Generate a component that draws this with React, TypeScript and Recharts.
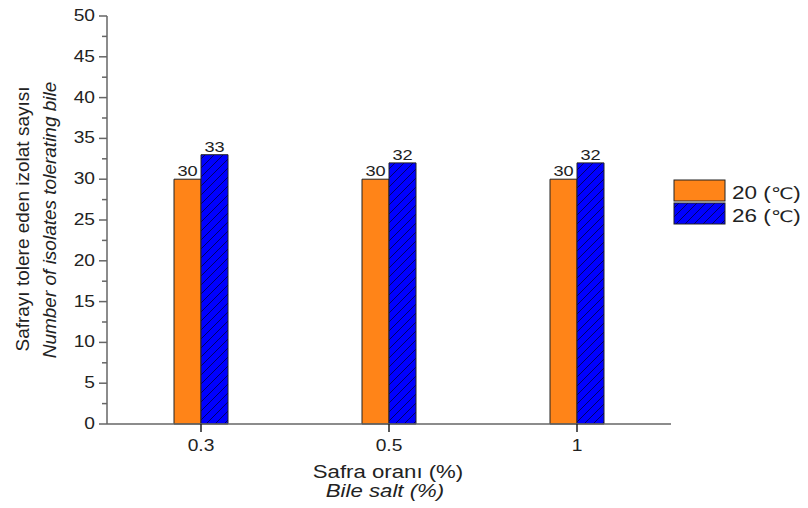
import React from 'react';
import { BarChart, Bar, XAxis, YAxis, LabelList } from 'recharts';

const categories = ['0.3', '0.5', '1'];
const series20 = [30, 30, 30];
const series26 = [33, 32, 32];
const seriesNames = ['20 (', '26 ('];
const yTicks = [0, 2.5, 5, 7.5, 10, 12.5, 15, 17.5, 20, 22.5, 25, 27.5, 30, 32.5, 35, 37.5, 40, 42.5, 45, 47.5, 50];

const data = categories.map((c, i) => ({ cat: c, a: series20[i], b: series26[i] }));

const ORANGE = '#FF8418';
const BLUE = '#0000FF';
const AXIS = '#666';
const FONT = '"Liberation Sans", Arial, sans-serif';
const SX = 1.2;

const ST = (props: any) => {
  const { x, y, sx = SX, children, ...rest } = props;
  return (
    <text transform={`translate(${x},${y}) scale(${sx},1)`} x={0} y={0} fontFamily={FONT} fill="#222" {...rest}>
      {children}
    </text>
  );
};

const YTick = (props: any) => {
  const { x, y, payload } = props;
  const v = payload.value;
  const major = v % 5 === 0;
  return (
    <g>
      <line x1={x + 8 - (major ? 8 : 5)} x2={x + 8} y1={y} y2={y} stroke={AXIS} strokeWidth={1.5} />
      {major && (
        <ST x={x - 4} y={y + 5} textAnchor="end" fontSize={16}>
          {v}
        </ST>
      )}
    </g>
  );
};

const XTick = (props: any) => {
  const { x, y, payload } = props;
  return (
    <ST x={x} y={y + 17} textAnchor="middle" fontSize={16}>
      {payload.value}
    </ST>
  );
};

const YLabel = (props: any) => {
  const vb = props.viewBox || {};
  const cy = vb.y + vb.height / 2;
  return (
    <g fontFamily={FONT} fontSize={19} fill="#222">
      <text x={29} y={cy - 1} textAnchor="middle" transform={`rotate(-90, 29, ${cy - 1})`}>
        Safrayı tolere eden izolat sayısı
      </text>
      <text x={56} y={cy} textAnchor="middle" fontStyle="italic" transform={`rotate(-90, 56, ${cy})`}>
        Number of isolates tolerating bile
      </text>
    </g>
  );
};

const XLabel = (props: any) => {
  const vb = props.viewBox || {};
  const cx = vb.x + vb.width / 2;
  return (
    <g>
      <ST x={cx - 1} y={478} textAnchor="middle" fontSize={18.5}>Safra oranı (%)</ST>
      <ST x={cx - 4} y={497} textAnchor="middle" fontSize={18.5} fontStyle="italic">Bile salt (%)</ST>
    </g>
  );
};

const ValueLabel = (props: any) => {
  const { x, y, width, value } = props;
  return (
    <ST x={x + width / 2} y={y - 3} textAnchor="middle" fontSize={14} sx={1.3}>
      {value}
    </ST>
  );
};

export default function App() {
  return (
    <div style={{ position: 'absolute', left: 0, top: 0, width: 808, height: 508, background: '#fff' }}>
      <BarChart
        width={808}
        height={508}
        data={data}
        margin={{ top: 16, right: 137, bottom: 54, left: 47 }}
        barGap={0}
        barCategoryGap={0}
      >
        <defs>
          <pattern id="hatch" patternUnits="userSpaceOnUse" width="9" height="9">
            <rect width="9" height="9" fill={BLUE} />
            <path d="M-1,10 L10,-1 M-3,3 L3,-3 M6,12 L12,6" stroke="#000066" strokeWidth={1} />
          </pattern>
        </defs>
        <XAxis
          dataKey="cat"
          height={30}
          axisLine={{ stroke: AXIS, strokeWidth: 1.5 }}
          tickLine={{ stroke: '#222', strokeWidth: 1.5 }}
          tickSize={8}
          tick={<XTick />}
          label={<XLabel />}
        />
        <YAxis
          width={60}
          domain={[0, 50]}
          ticks={yTicks}
          interval={0}
          axisLine={{ stroke: AXIS, strokeWidth: 1.5 }}
          tickLine={false}
          tick={<YTick />}
          label={<YLabel />}
        />
        <Bar dataKey="a" barSize={27} fill={ORANGE} stroke="#222" strokeWidth={1} isAnimationActive={false}>
          <LabelList dataKey="a" position="top" content={<ValueLabel />} />
        </Bar>
        <Bar dataKey="b" barSize={27} fill="url(#hatch)" stroke="#222" strokeWidth={1} isAnimationActive={false}>
          <LabelList dataKey="b" position="top" content={<ValueLabel />} />
        </Bar>
      </BarChart>
      <svg style={{ position: 'absolute', left: 0, top: 0 }} width={808} height={508} pointerEvents="none">
        <defs>
          <pattern id="hatchL" patternUnits="userSpaceOnUse" width="9" height="9">
            <rect width="9" height="9" fill={BLUE} />
            <path d="M-1,10 L10,-1 M-3,3 L3,-3 M6,12 L12,6" stroke="#000066" strokeWidth={1} />
          </pattern>
        </defs>
        <rect x={674} y={180} width={51} height={21} fill={ORANGE} stroke="#222" strokeWidth={1} />
        <rect x={674} y={203} width={51} height={21} fill="url(#hatchL)" stroke="#222" strokeWidth={1} />
        <ST x={732} y={199} fontSize={18} sx={1.25}>
          {seriesNames[0]}<tspan fontFamily='"DejaVu Sans", sans-serif' fontSize={16}>℃</tspan>)
        </ST>
        <ST x={732} y={222} fontSize={18} sx={1.25}>
          {seriesNames[1]}<tspan fontFamily='"DejaVu Sans", sans-serif' fontSize={16}>℃</tspan>)
        </ST>
      </svg>
    </div>
  );
}
